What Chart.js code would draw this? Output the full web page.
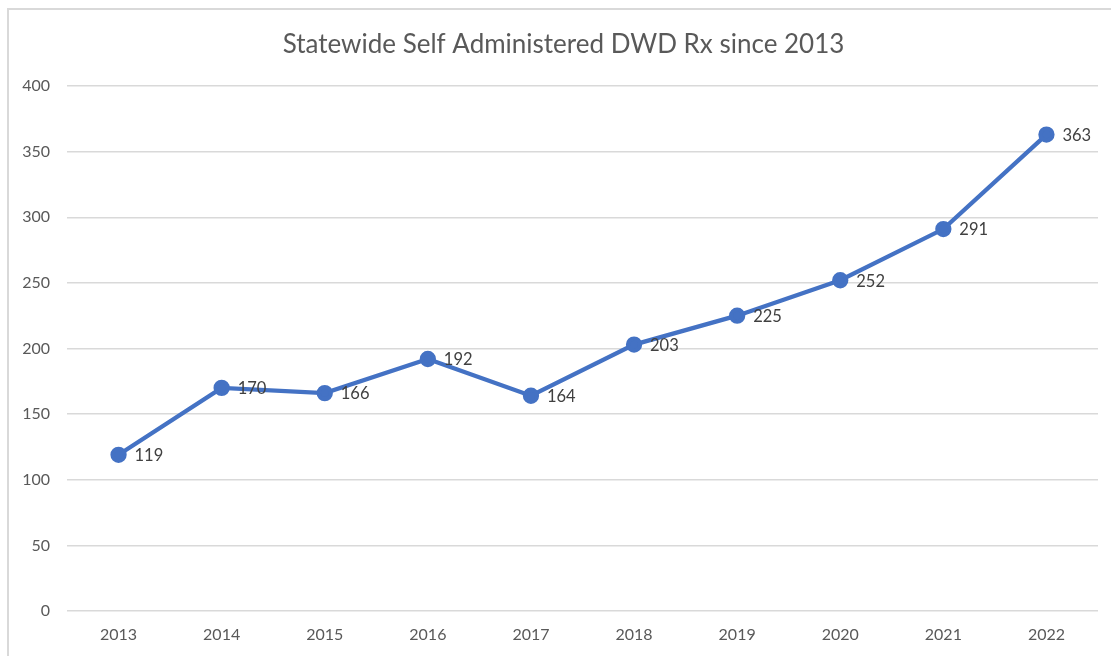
<!DOCTYPE html>
<html>
<head>
<meta charset="utf-8">
<script src="https://cdn.jsdelivr.net/npm/chart.js@4/dist/chart.umd.min.js"></script>
<style>
  html, body { margin: 0; padding: 0; background: #fff; overflow: hidden; }
  #frame { position: absolute; left: 7px; top: 8px; width: 1120px; height: 670px; border: 2px solid #d9d9d9; box-sizing: border-box; }
  #chart { position: absolute; left: 0; top: 0; }
</style>
</head>
<body>
<div id="frame"></div>
<canvas id="chart" width="1111" height="656"></canvas>
<script>
const years = ['2013', '2014', '2015', '2016', '2017', '2018', '2019', '2020', '2021', '2022'];
const prescriptions = [119, 170, 166, 192, 164, 203, 225, 252, 291, 363];
const yTicks = [0, 50, 100, 150, 200, 250, 300, 350, 400];
const chartTitle = 'Statewide Self Administered DWD Rx since 2013';

const FONT = 'Lato, "Open Sans", sans-serif';

// draws the value to the right of each point
const valueLabels = {
  id: 'valueLabels',
  afterDatasetsDraw(chart) {
    const ctx = chart.ctx;
    const meta = chart.getDatasetMeta(0);
    ctx.save();
    ctx.font = '16.5px ' + FONT;
    ctx.fillStyle = '#404040';
    ctx.textAlign = 'left';
    ctx.textBaseline = 'middle';
    meta.data.forEach((pt, i) => {
      ctx.fillText(String(prescriptions[i]), pt.x + 16, pt.y + 1);
    });
    ctx.restore();
  }
};

// title, centred within the chart frame (slightly right of canvas centre)
const plotTitle = {
  id: 'plotTitle',
  afterDraw(chart) {
    const ctx = chart.ctx;
    ctx.save();
    ctx.font = '26px ' + FONT;
    ctx.fillStyle = '#595959';
    ctx.textAlign = 'center';
    ctx.textBaseline = 'middle';
    ctx.fillText(chartTitle, chart.width / 2 + 8, 45);
    ctx.restore();
  }
};

const ctx = document.getElementById('chart').getContext('2d');

new Chart(ctx, {
  type: 'line',
  data: {
    labels: years,
    datasets: [{
      data: prescriptions,
      borderColor: '#4472C4',
      backgroundColor: '#4472C4',
      borderWidth: 4.3,
      pointRadius: 6,
      pointHoverRadius: 6,
      tension: 0,
    }],
  },
  options: {
    responsive: false,
    animation: false,
    layout: { padding: { top: 86, right: 13, bottom: 0, left: 0 } },
    plugins: {
      legend: { display: false },
      tooltip: { enabled: false },
      title: { display: false },
    },
    scales: {
      x: {
        offset: true,
        grid: { display: false, drawTicks: false },
        border: { display: false },
        ticks: { color: '#595959', font: { family: FONT, size: 16 }, padding: 14 },
        afterFit(scale) { scale.height = 45; },
      },
      y: {
        min: 0,
        max: 400,
        afterBuildTicks(scale) { scale.ticks = yTicks.map(v => ({ value: v })); },
        grid: { color: '#d9d9d9', lineWidth: 1.5, drawTicks: false },
        border: { display: false },
        ticks: { color: '#595959', font: { family: FONT, size: 16 }, padding: 17 },
        afterFit(scale) { scale.width = 67; },
      },
    },
  },
  plugins: [valueLabels, plotTitle],
});
</script>
</body>
</html>
